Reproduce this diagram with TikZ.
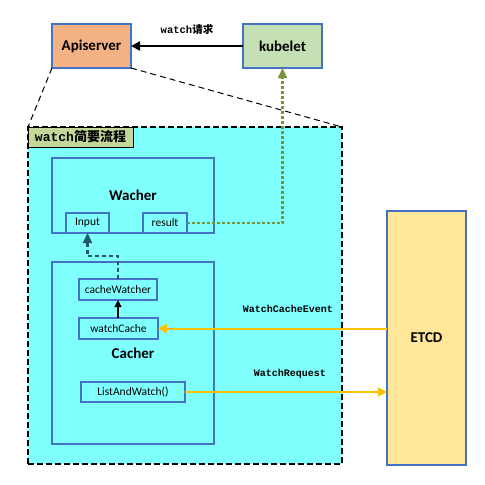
\documentclass[tikz,border=0pt]{standalone}
\usepackage{fontspec}
\setmainfont{Carlito}
\newfontfamily\monof{Liberation Mono}
\newfontfamily\cjk{Noto Sans CJK SC}
\usetikzlibrary{arrows.meta}
\definecolor{bblue}{HTML}{4472C4}
\definecolor{cyanbg}{HTML}{80FFFF}
\definecolor{apifill}{HTML}{F4B183}
\definecolor{kubefill}{HTML}{C5E0B4}
\definecolor{lblfill}{HTML}{C4D79B}
\definecolor{etcdfill}{HTML}{FFE699}
\definecolor{orangeln}{HTML}{FFC000}
\definecolor{greenln}{HTML}{77933C}
\definecolor{tealln}{HTML}{215968}
\tikzset{
  bluebox/.style={draw=bblue, line width=2.2pt, rectangle, inner sep=0pt, outer sep=0pt},
  bigtext/.style={font=\fontsize{15}{17}\selectfont\bfseries},
  smalltext/.style={font=\fontsize{11.5}{13}\selectfont},
  edgelbl/.style={font=\fontsize{10}{12}\selectfont\monof\bfseries},
  orangearrow/.style={draw=orangeln, line width=2pt, -{Triangle[length=9pt,width=9pt]}},
}
\begin{document}
\begin{tikzpicture}[x=1pt,y=-1pt]
\useasboundingbox (0,0) rectangle (485,485);
% container
\node[draw=black, dashed, dash pattern=on 6pt off 3pt, line width=1.6pt, fill=cyanbg, minimum width=314pt, minimum height=337pt, inner sep=0pt, outer sep=0pt] (cont) at (185,295.5) {};
\node[draw=black, line width=1pt, fill=lblfill, minimum width=105pt, minimum height=20pt, inner sep=0pt, outer sep=0pt, font=\fontsize{13}{15}\selectfont\bfseries] (lbl) at (80.5,137) {{\monof watch}{\cjk 简要流程}};
% top nodes
\node[bluebox, fill=apifill, minimum width=79pt, minimum height=44pt, bigtext] (api) at (91.5,46) {Apiserver};
\node[bluebox, fill=kubefill, minimum width=79pt, minimum height=44pt, bigtext] (kube) at (282.5,46) {kubelet};
\draw[line width=2.4pt, -{Triangle[length=9pt,width=9pt]}] (kube.west) -- node[above=7pt, font=\fontsize{10.5}{12}\selectfont\bfseries] {{\monof watch}{\cjk 请求}} (api.east);
\draw[dashed, dash pattern=on 6pt off 4pt, line width=1pt] (api.south west) -- (cont.north west);
\draw[dashed, dash pattern=on 6pt off 4pt, line width=1pt] (api.south east) -- (cont.north east);
% Wacher
\node[bluebox, minimum width=162pt, minimum height=75pt, bigtext] (wacher) at (133,195.5) {Wacher};
\node[bluebox, minimum width=43pt, minimum height=20pt, smalltext] (input) at (87.5,223) {Input};
\node[bluebox, minimum width=44pt, minimum height=20pt, smalltext] (result) at (165,223) {result};
% Cacher
\node[bluebox, minimum width=162pt, minimum height=182pt, bigtext] (cacher) at (133,353) {Cacher};
\node[bluebox, minimum width=78pt, minimum height=21pt, smalltext] (cw) at (118,289.5) {cacheWatcher};
\node[bluebox, minimum width=79pt, minimum height=21pt, smalltext] (wc) at (118.5,328.5) {watchCache};
\node[bluebox, minimum width=104pt, minimum height=20pt, smalltext] (law) at (133,392) {ListAndWatch()};
% ETCD
\node[bluebox, fill=etcdfill, minimum width=79pt, minimum height=254pt, bigtext] (etcd) at (426.5,338) {};
\node[bigtext] (etcdt) at (426.5,338) {ETCD};
% arrows
\draw[line width=1.4pt, -{Triangle[length=7pt,width=7pt]}] (118,318) -- (cw.south);
\coordinate (bend) at (87.5,256);
\draw[draw=tealln, line width=2.2pt, dash pattern=on 4pt off 3pt, -{Triangle[length=10pt,width=9pt]}] (cw.north) |- (bend) -- (input.south);
\draw[draw=greenln, line width=2.2pt, dash pattern=on 3pt off 2pt, -{Triangle[length=10pt,width=9pt]}] (result.east) -| (kube.south);
\coordinate (e1) at (387,328.5);
\draw[orangearrow] (e1) -- (wc.east);
\node[edgelbl] (l1) at (288,309) {WatchCacheEvent};
\coordinate (e2) at (387,392);
\draw[orangearrow] (law.east) -- (e2);
\node[edgelbl] (l2) at (290,374) {WatchRequest};
\end{tikzpicture}
\end{document}
